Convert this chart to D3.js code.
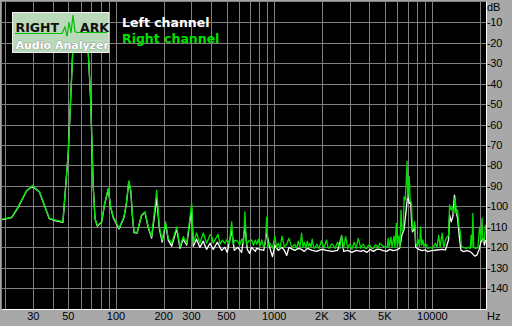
<!DOCTYPE html>
<meta charset="utf-8">
<script src="https://cdn.jsdelivr.net/npm/d3@7/dist/d3.min.js"></script>
<head>
<style>
    body { margin: 0; background: #a8a8a8; }
    svg { display: block; }
</style>
</head>
<body>
<script>

    var width = 512;
    var height = 326;

    // frequency grid and labels
    var gridFreqs = [20,30,40,50,60,70,80,90,100,200,300,400,500,600,700,800,900,
                     1000,2000,3000,4000,5000,6000,7000,8000,9000,10000,20000];
    var freqTicks = [30,50,100,200,300,500,1000,2000,3000,5000,10000];
    var freqTickLabels = ["30","50","100","200","300","500","1000","2K","3K","5K","10000"];
    var dbTicks = [-10,-20,-30,-40,-50,-60,-70,-80,-90,-100,-110,-120,-130,-140];

    var legendNames = ["Left channel", "Right channel"];
    var legendColors = ["#ffffff", "#00e000"];

    // left channel (white), [Hz, dB]
    var leftChannel = [
        [19.0,-106.5],[21.9,-105.5],[24.1,-100.5],[27.2,-92.5],[29.6,-90.2],[32.8,-93],[37.9,-106],
        [41.2,-107],[46.2,-107.8],[49.9,-74],[53.3,-24.4],[54.6,-8],[64.6,-8],[66.8,-24.4],[69.2,-48],
        [71.8,-90],[73.7,-106],[76.2,-109.6],[81.2,-107.8],[84.5,-99.5],[89.4,-91.5],[92.5,-100.5],
        [96.1,-105.5],[104.5,-111],[112.3,-105.5],[116.5,-98.5],[120.5,-88],[124,-92.5],[127,-104.5],
        [130,-112.8],[136,-113],[145,-104.5],[152.5,-103],[160,-110.5],[168,-115.5],[181,-96],[188,-111],
        [196,-117.5],[206,-108.5],[214,-116.5],[225,-119.5],[242,-111],[254,-120.5],[266,-116],[280,-119],
        [301,-101],[308,-119.5],[323,-116],[339,-120],[356,-117],[374,-121],[393,-118],[412,-121],
        [437,-117.5],[466,-121.5],[488,-120],[505,-122.5],[539,-112],[560,-121.5],[588,-120],[623,-122.5],
        [653,-110],[676,-121],[700,-123],[720,-120],[760,-122],[775,-120.5],
        [812,-121],[860,-121.5],[896,-113],[941,-120.5],[975,-124.5],[1010,-119],[1060,-121.5],[1120,-120],
        [1160,-121.5],[1200,-124],[1240,-120],[1350,-121.5],[1420,-120.5],[1490,-121],[1550,-122],
        [1620,-120.5],[1740,-121.5],[1860,-122],[1990,-121],[2140,-121.5],[2340,-122],[2520,-121.5],
        [2670,-114.5],[2750,-122],[2920,-121.5],[3100,-122.5],[3300,-121.5],[3530,-122],[3660,-121.5],
        [3850,-122.5],[4040,-121],[4240,-122],[4440,-121],[4650,-121],
        [4880,-121.6],[5130,-122],[5390,-121],[5660,-121.6],[5950,-121.3],[6200,-120.5],[6430,-113.7],
        [6620,-111.4],[6830,-101.8],[6990,-93.7],[7140,-98.5],[7290,-97.6],[7380,-106.5],[7480,-112.4],
        [7620,-111.5],[7730,-109],[7850,-120],[8200,-121],[8600,-121.6],[9040,-121.3],[9340,-122.1],
        [9900,-121.6],[10680,-121.3],[11520,-121],[12100,-121.3],[12650,-116.4],[12850,-104.2],
        [13150,-107.5],[13470,-105],[13790,-94.5],[14070,-101.8],[14430,-105.8],[14800,-114.8],
        [15130,-121.3],[15710,-122.1],[16550,-121.6],[17330,-122.1],[18030,-123.3],[18520,-124.3],
        [19120,-123.8],[19700,-121.3],[20300,-117.2],[20900,-115.6],[21330,-118.9],[21650,-116.4]
    ];

    // right channel (green), [Hz, dB]
    var rightChannel = [
        [19.0,-106.2],[21.9,-105.3],[24.1,-100.1],[27.2,-92.3],[29.6,-89.9],[32.8,-92.8],[37.9,-105.8],
        [41.2,-106.6],[46.2,-107.5],[49.9,-74],[53.3,-24.4],[54.6,-8],[64.6,-8],[66.8,-24.4],[69.2,-48],
        [71.8,-90],[73.7,-106],[76.2,-109.4],[81.2,-107.5],[84.5,-99],[89.4,-91.2],[92.5,-100],
        [96.1,-105],[104.5,-110.7],[112.3,-105],[116.5,-98],[120.5,-87.5],[124,-92],[127,-104],
        [130,-112.4],[136,-112.8],[145,-104.2],[152.5,-102.6],[160,-110],[168,-114.8],[181,-92],[188,-110],
        [196,-116.4],[206,-107.5],[214,-115.6],[225,-118],[242,-110],[254,-119.7],[266,-114.8],[280,-118],
        [301,-98.5],[308,-118],[323,-113],[339,-118],[356,-113],[374,-118],[393,-114],[400,-113.7],
        [412,-118],[425,-116],[442,-113.7],[455,-118.5],[470,-116.5],[488,-118],[505,-116],[520,-118.5],
        [539,-107.5],[550,-118.5],[565,-116.5],[588,-117],[605,-119],[623,-116],[640,-118.5],[653,-102.6],
        [668,-118.5],[690,-117],[720,-116.4],[740,-119],[760,-116.5],[775,-118.5],[795,-116],
        [812,-119.5],[834,-116.4],[860,-120],[880,-118],[896,-105.3],[915,-119.7],[941,-118],[975,-120.5],
        [1010,-114.5],[1035,-120],[1060,-118],[1090,-120.5],[1120,-114.5],[1160,-119.7],[1200,-118.5],
        [1240,-115.6],[1290,-120],[1350,-118.6],[1385,-120.5],[1420,-117],[1455,-120],[1490,-113.1],
        [1520,-120],[1550,-117.5],[1585,-120.5],[1620,-117],[1650,-119.5],[1680,-118],[1710,-120],
        [1740,-116],[1770,-119.5],[1800,-120.5],[1860,-118.5],[1920,-120.5],[1990,-116.8],[2060,-120.5],
        [2100,-118.5],[2140,-116.4],[2190,-120],[2240,-120.5],[2290,-118.5],[2340,-118.5],[2430,-120.5],
        [2480,-118.5],[2520,-117.5],[2600,-120.5],[2670,-114],[2750,-120.5],[2830,-114.8],[2920,-120.5],
        [2970,-119],[3010,-118.5],[3100,-121],[3200,-117.5],[3300,-120.5],[3400,-115.6],[3530,-120.5],
        [3600,-119],[3660,-118.5],[3760,-120.5],[3850,-120.5],[3950,-119],[4040,-119],[4140,-120.5],
        [4240,-120.5],[4340,-119],[4440,-119],[4550,-120.5],[4650,-118],
        [4880,-119.5],[5100,-120],[5200,-119.5],[5250,-115.6],[5330,-120],[5470,-115],[5560,-120],
        [5720,-114.5],[5800,-120],[5920,-108.3],[6000,-120],[6120,-114.5],[6230,-120],[6340,-101.8],
        [6430,-112],[6570,-111.4],[6620,-95.3],[6730,-96.8],[6830,-88.3],[6920,-78],[6990,-96],
        [7140,-85.5],[7240,-97.6],[7380,-98.5],[7480,-111.4],[7620,-110],[7730,-107.5],[7850,-118],
        [8010,-119.5],[8160,-116.4],[8300,-119.5],[8420,-110],[8560,-119],[8700,-116.4],[8850,-119.5],
        [9040,-118],[9340,-120.5],[9730,-120],[10050,-120.5],[10440,-118],[10700,-120],[10960,-114],
        [11200,-120],[11520,-113.1],[11800,-120],[12100,-116.4],[12400,-114.8],[12650,-114.5],
        [12850,-99.3],[13150,-101.8],[13400,-100.2],[13660,-103.4],[13920,-95.3],[14150,-103.4],
        [14430,-101.8],[14730,-110],[15000,-112.4],[15290,-119.7],[15700,-120],[16360,-120.5],
        [16900,-120],[17350,-120.5],[17590,-114],[17800,-120],[18030,-103.4],[18250,-120],[18840,-120.5],
        [19410,-120],[19880,-110],[20300,-116.4],[20600,-105.8],[20900,-117.2],[21330,-116.4],[21650,-109]
    ];

    var plotLeft = 2, plotTop = 2, plotRight = 486, plotBottom = 309;

    var x = d3.scaleLog().domain([20, 20000]).range([5.4, 480]);
    var y = d3.scaleLinear().domain([0, -150]).range([1.8, 308.7]);

    var svg = d3.select("body").append("svg")
        .attr("width", width)
        .attr("height", height)
        .style("font-family", "'Liberation Sans', Arial, sans-serif");

    svg.append("rect")
        .attr("x", 0).attr("y", 0)
        .attr("width", width).attr("height", height)
        .style("fill", "#a8a8a8");

    svg.append("rect")
        .attr("x", plotLeft).attr("y", plotTop)
        .attr("width", plotRight - plotLeft).attr("height", plotBottom - plotTop)
        .style("fill", "#000");

    svg.append("clipPath").attr("id", "plotClip")
        .append("rect")
        .attr("x", plotLeft).attr("y", plotTop)
        .attr("width", plotRight - plotLeft).attr("height", plotBottom - plotTop);

    // grid
    svg.append("g").selectAll("line.vgrid")
        .data(gridFreqs)
        .enter().append("line")
        .attr("class", "vgrid")
        .attr("x1", function(d) { return Math.round(x(d)) + 0.5; })
        .attr("x2", function(d) { return Math.round(x(d)) + 0.5; })
        .attr("y1", plotTop)
        .attr("y2", plotBottom)
        .style("stroke", "#808080");

    svg.append("g").selectAll("line.hgrid")
        .data(dbTicks)
        .enter().append("line")
        .attr("class", "hgrid")
        .attr("x1", plotLeft)
        .attr("x2", plotRight)
        .attr("y1", function(d) { return Math.round(y(d)) + 0.5; })
        .attr("y2", function(d) { return Math.round(y(d)) + 0.5; })
        .style("stroke", "#808080");

    // sunken border
    svg.append("path")
        .attr("d", "M" + (plotLeft - 0.5) + "," + (plotBottom) + "V" + (plotTop - 0.5) + "H" + plotRight)
        .style("fill", "none").style("stroke", "#808080");
    svg.append("path")
        .attr("d", "M" + (plotLeft) + "," + (plotBottom + 0.5) + "H" + (plotRight + 0.5) + "V" + plotTop)
        .style("fill", "none").style("stroke", "#ffffff");

    var line = d3.line()
        .x(function(d) { return x(d[0]); })
        .y(function(d) { return y(d[1]); });

    var curves = svg.append("g").attr("clip-path", "url(#plotClip)");

    curves.append("path")
        .datum(leftChannel)
        .attr("d", line)
        .style("fill", "none")
        .style("stroke", legendColors[0])
        .style("stroke-width", 1.3)
        .style("stroke-linejoin", "round");

    curves.append("path")
        .datum(rightChannel)
        .attr("d", line)
        .style("fill", "none")
        .style("stroke", legendColors[1])
        .style("stroke-width", 1.3)
        .style("stroke-linejoin", "round");

    // axis labels
    svg.append("g").selectAll("text")
        .data(freqTicks)
        .enter().append("text")
        .attr("x", function(d) { return x(d); })
        .attr("y", 319.5)
        .attr("text-anchor", "middle")
        .style("font-size", "11px")
        .style("fill", "#000")
        .text(function(d, i) { return freqTickLabels[i]; });

    svg.append("text")
        .attr("x", 487).attr("y", 320)
        .style("font-size", "11px")
        .text("Hz");

    svg.append("g").selectAll("text")
        .data(dbTicks)
        .enter().append("text")
        .attr("x", 487)
        .attr("y", function(d) { return y(d) + 4; })
        .style("font-size", "11px")
        .style("letter-spacing", "-0.3px")
        .style("fill", "#000")
        .text(function(d) { return d; });

    svg.append("text")
        .attr("x", 487).attr("y", 11)
        .style("font-size", "11px")
        .text("dB");

    // legend
    svg.append("g").selectAll("text")
        .data(legendNames)
        .enter().append("text")
        .attr("x", 122)
        .attr("y", function(d, i) { return 27 + i * 15.7; })
        .style("font-family", "'DejaVu Sans', sans-serif")
        .style("font-weight", "bold")
        .style("font-size", "12.5px")
        .style("fill", function(d, i) { return legendColors[i]; })
        .text(function(d) { return d; });

    // logo
    var logo = svg.append("g");
    logo.append("rect")
        .attr("x", 12.5).attr("y", 12.5)
        .attr("width", 96.5).attr("height", 40)
        .style("fill", "#bad8ba")
        .style("stroke", "#f0f0f0");
    logo.append("path")
        .attr("d", "M15,33.5H62L65,27L67,36.5L69,22L71,33L73,15L75,31.5L77,32.5H107")
        .style("fill", "none")
        .style("stroke", "#00c000")
        .style("stroke-width", 1.2);
    logo.append("text")
        .attr("x", 15.5).attr("y", 31.5)
        .style("font-family", "'DejaVu Sans', sans-serif")
        .style("font-weight", "bold")
        .style("font-size", "12.5px")
        .style("fill", "#101010")
        .text("RIGHT");
    logo.append("text")
        .attr("x", 80).attr("y", 31.5)
        .style("font-family", "'DejaVu Sans', sans-serif")
        .style("font-weight", "bold")
        .style("font-size", "12.5px")
        .style("fill", "#101010")
        .text("ARK");
    logo.append("text")
        .attr("x", 15.5).attr("y", 48.5)
        .style("font-family", "'DejaVu Sans', sans-serif")
        .style("font-weight", "bold")
        .style("font-size", "11px")
        .style("fill", "#ffffff")
        .style("stroke", "#6a7a6a")
        .style("stroke-width", 0.6)
        .style("paint-order", "stroke")
        .text("Audio Analyzer");

</script>
</body>
